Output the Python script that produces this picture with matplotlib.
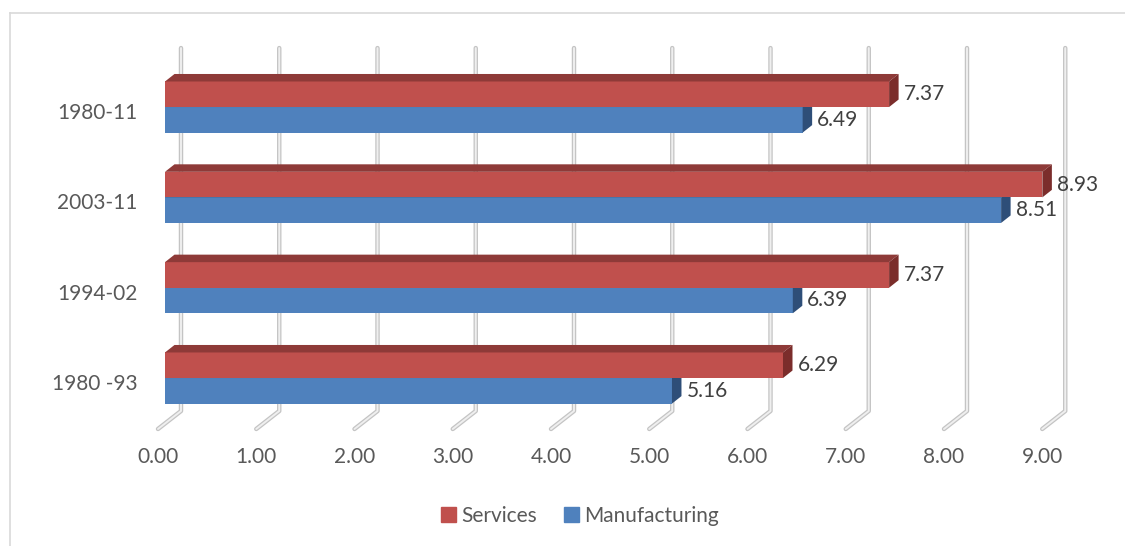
import matplotlib
matplotlib.use('Agg')
import matplotlib.pyplot as plt
from matplotlib.patches import Patch
from matplotlib.lines import Line2D
from matplotlib.transforms import ScaledTranslation

plt.rcParams['font.family'] = ['Lato', 'DejaVu Sans']

# data (bottom to top, as drawn)
periods = ['1980 -93', '1994-02', '2003-11', '1980-11']
services = [6.29, 7.37, 8.93, 7.37]
manufacturing = [5.16, 6.39, 8.51, 6.49]
xticks = [0, 1, 2, 3, 4, 5, 6, 7, 8, 9]

RED, RED_TOP, RED_SIDE = '#C0504D', '#8E3A38', '#7B2D2B'
BLUE, BLUE_TOP, BLUE_SIDE = '#4F81BD', '#3A628F', '#2E4E78'

W, H = 1125, 546
PXV = 98.25   # pixels per value unit
PXC = 90.33   # pixels per category step

fig = plt.figure(figsize=(W / 100, H / 100), dpi=100)
ax = fig.add_axes([165 / W, (H - 423.2) / H, 9 * PXV / W, 4 * PXC / H])
ax.set_xlim(0, 9)
ax.set_ylim(-0.5, 3.5)
for s in ax.spines.values():
    s.set_visible(False)

# 3d look: depth offsets in data units
DX, DY = 9.5 / PXV, 7.5 / PXC        # bar depth
BX = 16 / PXV                        # back wall offset
FX = 7 / PXV                         # floor front offset
top_y, back_y, front_y = 3.653, -0.365, -0.564
bh = 0.283

# gridlines on back wall + floor
for v in xticks:
    xs = [v + BX, v + BX, v - FX]
    ys = [top_y, back_y, front_y]
    ax.plot(xs, ys, color='#C4C4C4', lw=3.2, solid_capstyle='round', zorder=1, clip_on=False)
    ax.plot(xs, ys, color='#EFEFEF', lw=1.4, solid_capstyle='round', zorder=1.1, clip_on=False)


def bar3d(y0, v, front, top, side, z):
    ax.barh(y0, v, height=bh, left=0, align='edge', color=front, zorder=z, clip_on=False)
    ax.fill([0, v, v + DX, DX], [y0 + bh, y0 + bh, y0 + bh + DY, y0 + bh + DY],
            color=top, lw=0, zorder=z, clip_on=False)
    ax.fill([v, v + DX, v + DX, v], [y0, y0 + DY, y0 + bh + DY, y0 + bh],
            color=side, lw=0, zorder=z, clip_on=False)


for i in range(len(periods)):
    bar3d(i - bh, manufacturing[i], BLUE, BLUE_TOP, BLUE_SIDE, 2 + i * 0.01)
    bar3d(i, services[i], RED, RED_TOP, RED_SIDE, 3 + i * 0.01)
    ax.text(services[i] + DX + 5 / PXV, i + bh / 2, f'{services[i]:.2f}',
            va='center', ha='left', fontsize=15, color='#404040', zorder=5, clip_on=False)
    ax.text(manufacturing[i] + DX + 5 / PXV, i - bh / 2, f'{manufacturing[i]:.2f}',
            va='center', ha='left', fontsize=15, color='#404040', zorder=5, clip_on=False)

ax.set_xticks(xticks)
ax.set_xticklabels([f'{v:.2f}' for v in xticks], fontsize=15, color='#595959')
ax.set_yticks(range(len(periods)))
ax.set_yticklabels(periods, fontsize=15, color='#595959')
ax.tick_params(axis='x', length=0, pad=17)
ax.tick_params(axis='y', length=0, pad=20)
for lab in ax.get_xticklabels():
    lab.set_transform(lab.get_transform() + ScaledTranslation(-7 / 100, 0, fig.dpi_scale_trans))
for lab in ax.get_yticklabels():
    lab.set_transform(lab.get_transform() + ScaledTranslation(0, -4 / 100, fig.dpi_scale_trans))

fig.legend(handles=[Patch(color=RED, label='Services'), Patch(color=BLUE, label='Manufacturing')],
           loc='center', bbox_to_anchor=(580 / W, 1 - 516 / H), ncol=2, frameon=False,
           fontsize=15, handlelength=0.7, handleheight=0.7, handletextpad=0.25,
           columnspacing=1.3, labelcolor='#595959')

# chart area border (only top and left visible)
fig.add_artist(Line2D([10 / W, 1], [1 - 13 / H] * 2, transform=fig.transFigure, color='#D9D9D9', lw=1.2))
fig.add_artist(Line2D([10 / W] * 2, [0, 1 - 13 / H], transform=fig.transFigure, color='#D9D9D9', lw=1.2))

fig.savefig('out.png', dpi=100)
